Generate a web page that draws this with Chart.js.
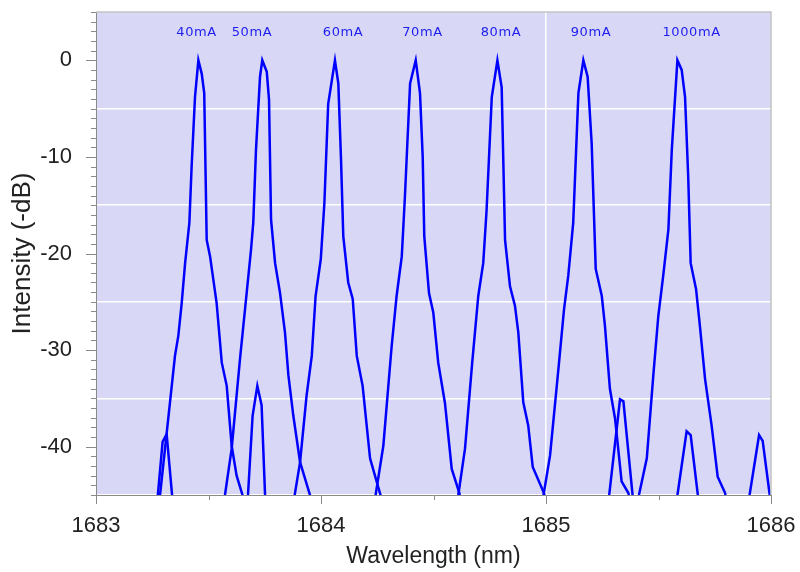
<!DOCTYPE html>
<html>
<head>
<meta charset="utf-8">
<script src="https://cdn.jsdelivr.net/npm/chart.js@4.4.0/dist/chart.umd.min.js"></script>
<style>
  body { margin: 0; background: #fff; }
  #wrap { width: 800px; height: 572px; }
</style>
</head>
<body>
<div id="wrap"><canvas id="spectra"></canvas></div>
<script>
// Espectros: longitud de onda (nm) e intensidad (-dB)
var wl40 = [1683.280, 1683.351, 1683.366, 1683.381, 1683.396, 1683.415, 1683.425, 1683.440, 1683.455, 1683.470,
            1683.481, 1683.492, 1683.507, 1683.536, 1683.559, 1683.581, 1683.603, 1683.625, 1683.664,
            1683.673, 1683.696, 1683.717, 1683.736, 1683.753];
var db40 = [-46, -30.6, -28.5, -25.1, -21.0, -16.8, -11.0, -3.8, 0, -1.4,
            -3.4, -18.6, -20.3, -25.1, -31.3, -33.7, -39.9, -43.0, -46,
            -46, -36.8, -33.7, -35.7, -46];

var wl50 = [1683.271, 1683.296, 1683.314, 1683.342,
            1683.567, 1683.603, 1683.640, 1683.670, 1683.689, 1683.699, 1683.711, 1683.729, 1683.739, 1683.759,
            1683.769, 1683.778, 1683.796, 1683.818, 1683.840, 1683.855, 1683.877, 1683.907, 1683.951, 1683.960];
var db50 = [-46, -39.5, -38.7, -46,
            -46, -40.2, -30.9, -24.0, -19.6, -16.8, -9.3, -1.7, 0, -1.2,
            -4.1, -16.5, -21.0, -24.1, -28.2, -32.6, -36.8, -41.6, -45.0, -46];

var wl60 = [1683.876, 1683.907, 1683.936, 1683.959, 1683.976, 1683.999, 1684.015, 1684.032, 1684.048, 1684.062,
            1684.077, 1684.089, 1684.099, 1684.121, 1684.141, 1684.159, 1684.185, 1684.218, 1684.262, 1684.276];
var db60 = [-46, -41.6, -34.7, -30.6, -24.4, -20.6, -14.8, -4.5, -2.1, 0,
            -2.4, -10.3, -18.2, -23.0, -24.7, -30.6, -33.7, -41.2, -44.8, -46];

var wl70 = [1684.236, 1684.277, 1684.314, 1684.336, 1684.359, 1684.373, 1684.396, 1684.421, 1684.440,
            1684.452, 1684.459, 1684.480, 1684.499, 1684.521, 1684.551, 1684.581, 1684.615, 1684.622];
var db70 = [-46, -39.9, -29.6, -24.4, -20.3, -14.1, -2.4, 0, -3.4,
            -10.0, -18.2, -24.1, -26.1, -31.3, -35.5, -42.3, -44.8, -46];

var wl80 = [1684.604, 1684.640, 1684.672, 1684.699, 1684.721, 1684.736, 1684.759, 1684.784, 1684.803,
            1684.818, 1684.840, 1684.862, 1684.877, 1684.899, 1684.921, 1684.941, 1684.991, 1685.000];
var db80 = [-46, -40.2, -31.3, -24.4, -21.0, -15.5, -3.8, 0, -2.8,
            -18.6, -23.4, -25.4, -28.2, -35.4, -37.8, -42.1, -44.8, -46];

var wl90 = [1684.982, 1685.018, 1685.055, 1685.080, 1685.099, 1685.121, 1685.144, 1685.166, 1685.185,
            1685.203, 1685.221, 1685.248, 1685.262, 1685.284, 1685.307, 1685.336, 1685.366, 1685.378,
            1685.578, 1685.625, 1685.643, 1685.680];
var db90 = [-46, -40.9, -32.0, -25.8, -22.3, -16.8, -3.4, 0, -1.7,
            -8.6, -21.6, -24.4, -27.5, -34.0, -37.1, -43.6, -44.8, -46,
            -46, -38.4, -38.8, -46];

var wl1000 = [1685.276, 1685.329, 1685.344, 1685.389,
              1685.404, 1685.448, 1685.477, 1685.499, 1685.521, 1685.544, 1685.559, 1685.584, 1685.603,
              1685.618, 1685.632, 1685.643, 1685.667, 1685.684, 1685.707, 1685.736, 1685.763, 1685.796, 1685.804,
              1685.898, 1685.947, 1685.963, 1686.000];
var db1000 = [-46, -35.1, -35.3, -46,
              -46, -41.2, -32.6, -26.5, -22.3, -17.5, -9.3, 0, -1.0,
              -3.8, -12.0, -21.0, -23.7, -27.5, -33.0, -37.8, -43.1, -44.8, -46,
              -46, -38.8, -39.4, -46];

var seriesWl = [wl40, wl50, wl60, wl70, wl80, wl90, wl1000];
var seriesDb = [db40, db50, db60, db70, db80, db90, db1000];
var currentLabels = ["40mA", "50mA", "60mA", "70mA", "80mA", "90mA", "1000mA"];
var labelWl = [1683.447, 1683.693, 1684.098, 1684.451, 1684.800, 1685.200, 1685.647];
var labelDb = 2.9;

function toPoints(wl, db) {
  return wl.map(function (x, i) { return { x: x, y: db[i] }; });
}

var datasets = currentLabels.map(function (name, i) {
  return {
    label: name,
    data: toPoints(seriesWl[i], seriesDb[i]),
    borderColor: "#0000ff",
    borderWidth: 2.5,
    pointRadius: 0,
    tension: 0,
    clip: 0
  };
});

var fontFamily = "'Liberation Sans', Arial, sans-serif";

// fondo lila, marco, marcas de los ejes y etiquetas de corriente
var plotDecor = {
  id: "plotDecor",
  beforeDraw: function (chart) {
    var a = chart.chartArea, ctx = chart.ctx;
    ctx.save();
    ctx.fillStyle = "#d8d8f6";
    ctx.fillRect(a.left, a.top, a.right - a.left, a.bottom - a.top);
    ctx.restore();
  },
  afterDraw: function (chart) {
    var a = chart.chartArea, ctx = chart.ctx;
    var xs = chart.scales.x, ys = chart.scales.y;
    ctx.save();
    ctx.strokeStyle = "#c4c4c4";
    ctx.lineWidth = 1.5;
    ctx.beginPath();
    ctx.moveTo(a.left, a.top);
    ctx.lineTo(a.right, a.top);
    ctx.lineTo(a.right, a.bottom);
    ctx.stroke();

    ctx.strokeStyle = "#8a8a8a";
    ctx.lineWidth = 1;
    ctx.beginPath();
    for (var v = -45; v <= 5; v++) {
      var py = Math.round(ys.getPixelForValue(v)) + 0.5;
      var len = v % 10 === 0 ? 10 : 5;
      ctx.moveTo(a.left - len, py);
      ctx.lineTo(a.left, py);
    }
    for (var w = 1683; w <= 1686; w += 0.5) {
      var px = Math.round(xs.getPixelForValue(w)) + 0.5;
      var l2 = w % 1 === 0 ? 9 : 5;
      ctx.moveTo(px, a.bottom);
      ctx.lineTo(px, a.bottom + l2);
    }
    ctx.stroke();

    ctx.fillStyle = "#1c1cee";
    ctx.font = "13px 'DejaVu Sans', sans-serif";
    ctx.letterSpacing = "0.6px";
    ctx.textAlign = "center";
    ctx.textBaseline = "middle";
    currentLabels.forEach(function (t, i) {
      ctx.fillText(t, xs.getPixelForValue(labelWl[i]), ys.getPixelForValue(labelDb));
    });
    ctx.restore();
  }
};

new Chart(document.getElementById("spectra").getContext("2d"), {
  type: "line",
  data: { datasets: datasets },
  options: {
    responsive: true,
    maintainAspectRatio: false,
    animation: false,
    layout: { padding: { top: 12, right: 29, left: 0, bottom: 0 } },
    plugins: { legend: { display: false }, tooltip: { enabled: false } },
    scales: {
      x: {
        type: "linear",
        min: 1683,
        max: 1686,
        afterFit: function (s) {
          s.height = 77;
          s.paddingLeft = 0;
          s.paddingRight = 0;
        },
        ticks: {
          stepSize: 0.5,
          padding: 18,
          color: "#222",
          font: { family: fontFamily, size: 22 },
          callback: function (v) { return v % 1 === 0 ? v : ""; }
        },
        grid: {
          drawTicks: false,
          lineWidth: 1.5,
          color: function (c) { return c.tick && c.tick.value === 1685 ? "#ffffff" : "rgba(0,0,0,0)"; }
        },
        border: { color: "#8a8a8a", width: 1 },
        title: {
          display: true,
          text: "Wavelength (nm)",
          color: "#222",
          font: { family: fontFamily, size: 23 },
          padding: { top: 0, bottom: 2 }
        }
      },
      y: {
        min: -45,
        max: 5,
        afterFit: function (s) {
          s.width = 96;
          s.paddingTop = 0;
          s.paddingBottom = 0;
        },
        ticks: {
          stepSize: 5,
          padding: 24,
          color: "#222",
          font: { family: fontFamily, size: 22 },
          callback: function (v) { return v % 10 === 0 ? v : ""; }
        },
        grid: {
          drawTicks: false,
          lineWidth: 1.5,
          color: function (c) {
            var v = c.tick ? c.tick.value : 0;
            return (v % 10 !== 0 && v !== 5) ? "#ffffff" : "rgba(0,0,0,0)";
          }
        },
        border: { color: "#8a8a8a", width: 1 },
        title: {
          display: true,
          text: "Intensity (-dB)",
          color: "#222",
          font: { family: fontFamily, size: 26 },
          padding: { top: 7, bottom: 0 }
        }
      }
    }
  },
  plugins: [plotDecor]
});
</script>
</body>
</html>
